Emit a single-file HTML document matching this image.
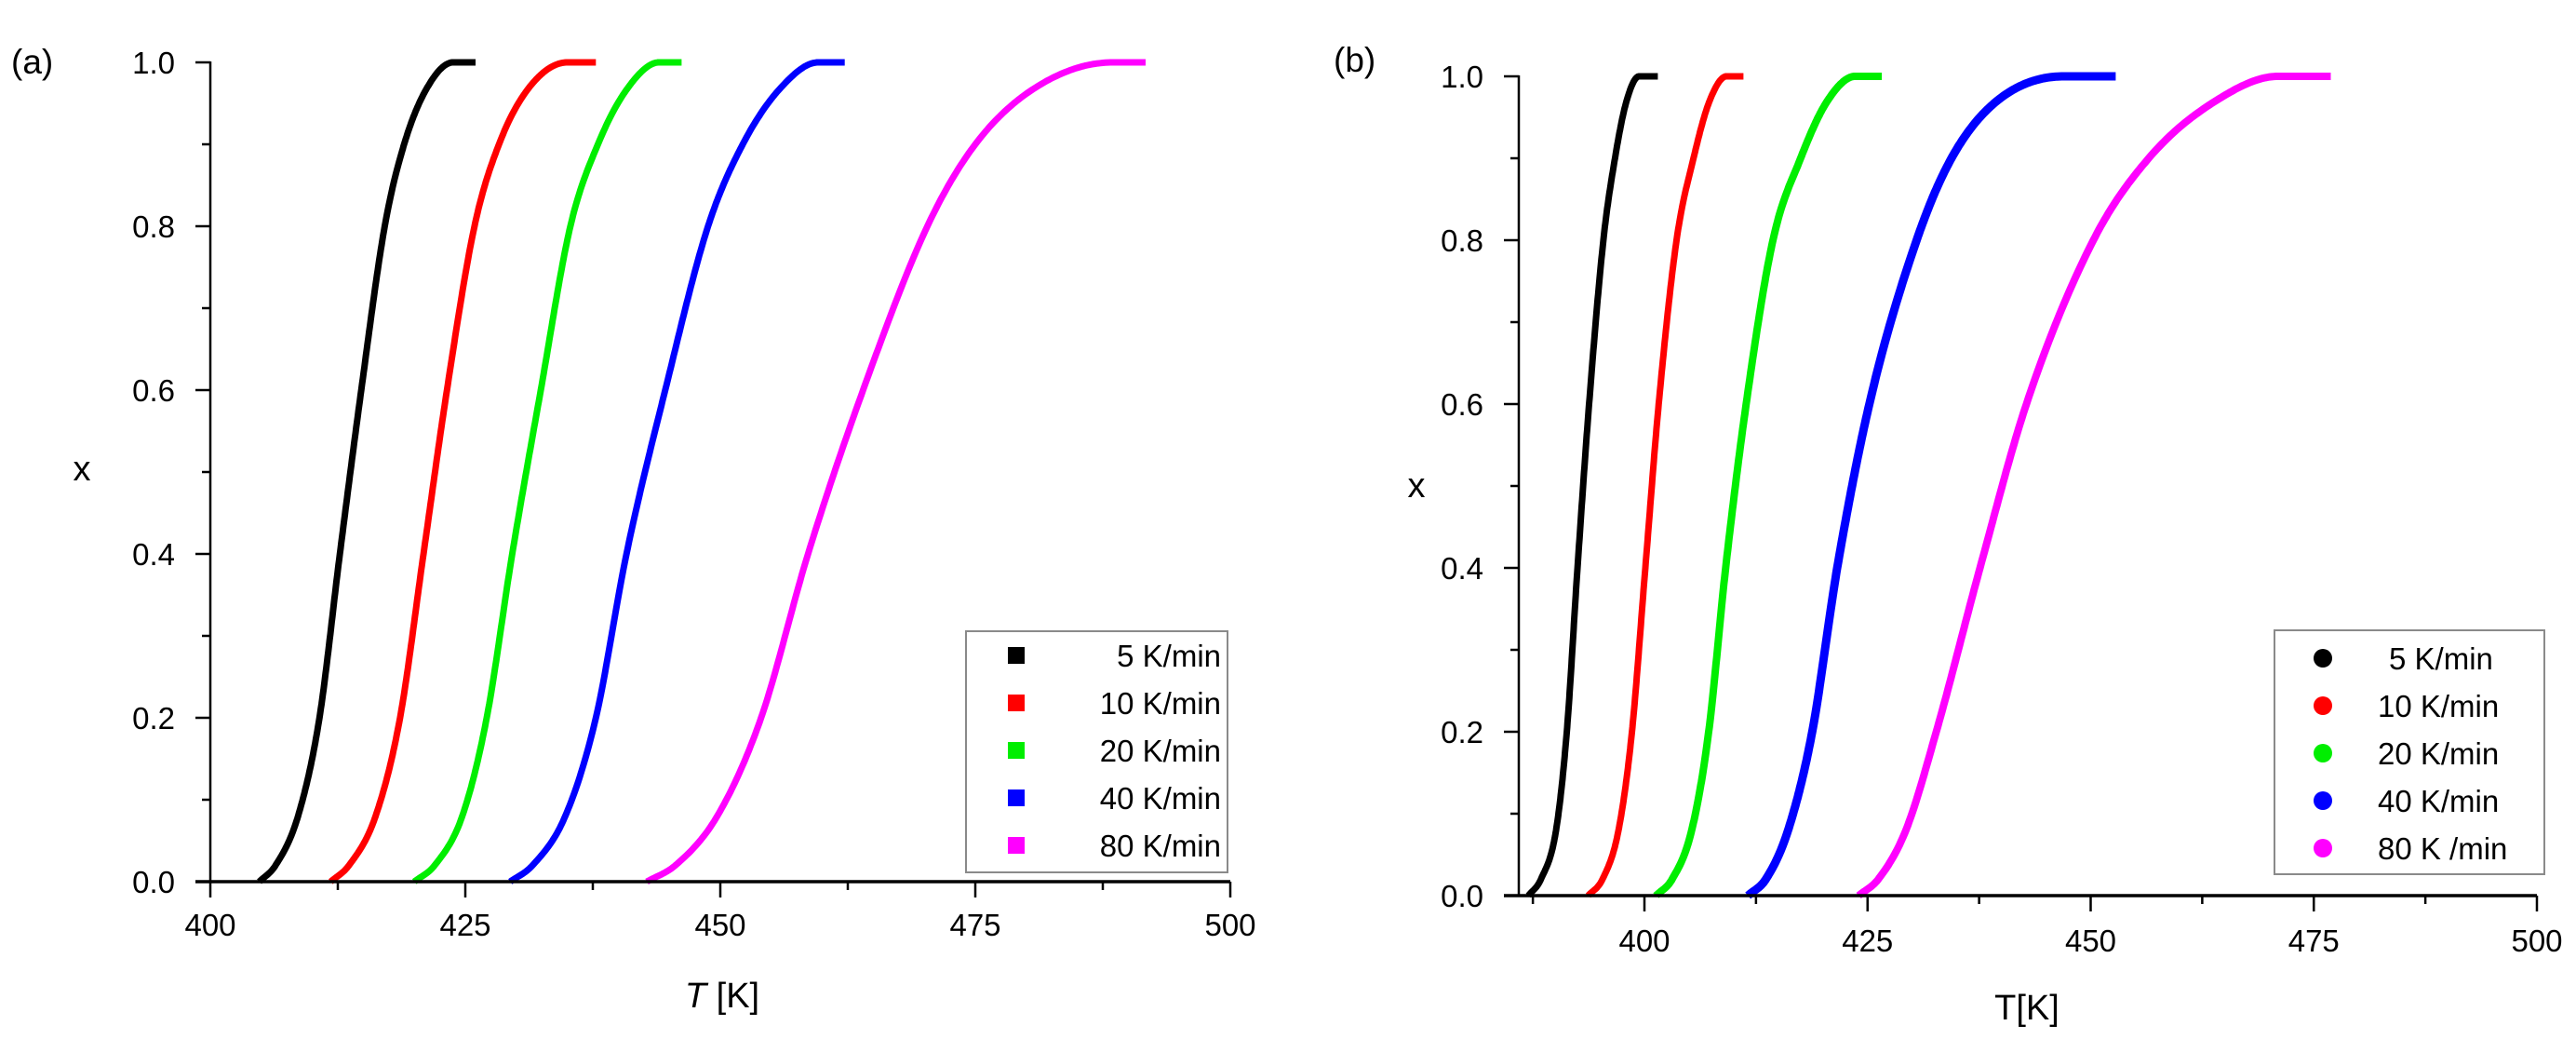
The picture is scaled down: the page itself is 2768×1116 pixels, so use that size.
<!DOCTYPE html>
<html><head><meta charset="utf-8">
<style>
html,body{margin:0;padding:0;background:#fff;}
svg{display:block;font-family:"Liberation Sans",Arial,sans-serif;}
</style></head>
<body>
<svg id="fig" width="2768" height="1116" viewBox="0 0 2768 1116" xmlns="http://www.w3.org/2000/svg">
<g id="pa"></g>
<g id="pb"></g>
</svg>
<script>
// ---- data ----
const seriesNames = ["5 K/min","10 K/min","20 K/min","40 K/min","80 K/min"];
const seriesNamesB = ["5 K/min","10 K/min","20 K/min","40 K/min","80 K /min"];
const seriesColors = ["#000000","#ff0000","#00ee00","#0000ff","#ff00ff"];
const levels = [0, 0.02, 0.08, 0.2, 0.4, 0.6, 0.8, 0.9, 0.97, 1.0, 1.0];
const tempsA5  = [404.8, 406.4, 408.6, 410.7, 412.7, 414.8, 417.1, 419.0, 421.3, 423.8, 426.0];
const tempsA10 = [411.8, 413.6, 416.2, 418.6, 420.9, 423.2, 425.9, 428.3, 431.3, 435.0, 437.8];
const tempsA20 = [420.0, 422.0, 424.7, 427.1, 429.6, 432.4, 435.3, 438.0, 441.0, 444.0, 446.2];
const tempsA40 = [429.4, 431.6, 434.8, 437.8, 440.8, 444.6, 448.8, 452.2, 456.0, 459.6, 462.2];
const tempsA80 = [442.8, 445.6, 449.7, 454.0, 458.6, 464.0, 470.3, 475.0, 481.0, 488.5, 491.7];
const tempsB5  = [387.0, 388.4, 390.1, 391.3, 392.5, 393.8, 395.4, 396.7, 398.0, 399.4, 401.5];
const tempsB10 = [393.7, 395.3, 397.1, 398.6, 400.1, 401.6, 403.6, 405.5, 407.3, 409.2, 411.1];
const tempsB20 = [401.3, 403.1, 405.3, 407.2, 409.1, 411.4, 414.4, 417.5, 420.5, 423.6, 426.6];
const tempsB40 = [411.6, 413.6, 416.1, 418.8, 421.6, 425.2, 430.5, 434.4, 439.5, 447.0, 452.8];
const tempsB80 = [424.0, 426.2, 429.3, 432.7, 437.6, 442.8, 450.3, 456.5, 464.0, 471.0, 476.9];
const xTicks = [400, 425, 450, 475, 500];
const yTicks = [0, 0.2, 0.4, 0.6, 0.8, 1.0];
const yTickLabels = ["0.0","0.2","0.4","0.6","0.8","1.0"];

const NS = "http://www.w3.org/2000/svg";
function mk(parent, tag, attrs, text){
  const e = document.createElementNS(NS, tag);
  for (const k in attrs) e.setAttribute(k, attrs[k]);
  if (text !== undefined) e.textContent = text;
  parent.appendChild(e);
  return e;
}
function monotonePath(xs, ys, sx, sy){
  const n = xs.length, d = [], m = [];
  for (let i = 0; i < n - 1; i++) d.push((ys[i+1]-ys[i])/(xs[i+1]-xs[i]));
  m.push(d[0]);
  for (let i = 1; i < n - 1; i++) m.push(d[i-1]*d[i] <= 0 ? 0 : (d[i-1]+d[i])/2);
  m.push(d[n-2]);
  for (let i = 0; i < n - 1; i++){
    if (d[i] === 0){ m[i] = 0; m[i+1] = 0; continue; }
    const a = m[i]/d[i], b = m[i+1]/d[i], s = a*a + b*b;
    if (s > 9){ const t = 3/Math.sqrt(s); m[i] = t*a*d[i]; m[i+1] = t*b*d[i]; }
  }
  let path = "";
  for (let i = 0; i < n - 1; i++){
    const h = xs[i+1]-xs[i], N = 30;
    for (let k = (i === 0 ? 0 : 1); k <= N; k++){
      const t = k/N, t2 = t*t, t3 = t2*t;
      const y = (2*t3-3*t2+1)*ys[i] + (t3-2*t2+t)*h*m[i] + (-2*t3+3*t2)*ys[i+1] + (t3-t2)*h*m[i+1];
      const x = xs[i] + t*h;
      path += (path ? " L" : "M") + sx(x).toFixed(1) + "," + sy(y).toFixed(1);
    }
  }
  return path;
}

function panel(g, cfg){
  const sx = t => cfg.x400 + (t - 400) * (cfg.x500 - cfg.x400) / 100;
  const sy = v => cfg.y0 + (cfg.y1 - cfg.y0) * v;
  cfg.series.forEach((temps, i) => {
    const p = mk(g, "path", {d: monotonePath(temps, levels, sx, sy), fill: "none", stroke: seriesColors[i], "stroke-width": cfg.lw[i], "stroke-linecap": "butt", "stroke-linejoin": "round"});
    
    
  });
  const yAx = mk(g, "line", {x1: cfg.axX, y1: cfg.y1 - 1, x2: cfg.axX, y2: cfg.y0, stroke: "#000", "stroke-width": 2.5});
  
  
  const xAx = mk(g, "line", {x1: cfg.axX - 16, y1: cfg.y0, x2: sx(500), y2: cfg.y0, stroke: "#000", "stroke-width": 3.5});
  
  
  for (let k = 0; k <= 10; k++){
    const v = k / 10, y = sy(v), major = k % 2 === 0;
    const t = mk(g, "line", {x1: cfg.axX - (major ? 16 : 9), y1: y, x2: cfg.axX, y2: y, stroke: "#000", "stroke-width": 2.5});
    
    
  }
  yTicks.forEach((v, i) => {
    const tl = mk(g, "text", {x: cfg.axX - 38, y: sy(v) + 12, "text-anchor": "end", "font-size": 33}, yTickLabels[i]);
    
    
  });
  for (let t = 375; t <= 500; t += 12.5){
    const x = sx(t);
    if (x < cfg.axX - 1) continue;
    const major = (t % 25) === 0;
    const tk = mk(g, "line", {x1: x, y1: cfg.y0, x2: x, y2: cfg.y0 + (major ? 17 : 9), stroke: "#000", "stroke-width": 2.5});
    
    
  }
  xTicks.forEach(t => {
    const xl = mk(g, "text", {x: sx(t), y: cfg.xLabY, "text-anchor": "middle", "font-size": 33}, String(t));
    
    
  });
  const L = cfg.legend;
  const lr = mk(g, "rect", {x: L.x, y: L.y, width: L.w, height: L.h, fill: "#fff", stroke: "#8a8a8a", "stroke-width": 2});
  
  
  cfg.names.forEach((n, i) => {
    const cy = L.row0 + i * 51;
    const eg = mk(g, "g", {});
    
    
    if (cfg.marker === "square") mk(eg, "rect", {x: L.mx - 9, y: cy - 9, width: 18, height: 18, fill: seriesColors[i]});
    else mk(eg, "circle", {cx: L.mx, cy: cy, r: 10, fill: seriesColors[i]});
    if (L.anchor === "end") mk(eg, "text", {x: L.tx, y: cy + 12, "text-anchor": "end", "font-size": 33}, n);
    else mk(eg, "text", {x: i === 0 ? L.tx + 12 : L.tx, y: cy + 12, "font-size": 33}, n);
  });
}

const ga = document.getElementById("pa");
panel(ga, {x400: 226, x500: 1322, axX: 226, y0: 947, y1: 67, xLabY: 1005,
  series: [tempsA5, tempsA10, tempsA20, tempsA40, tempsA80], lw: [7,7,7,7,7],
  names: seriesNames, marker: "square",
  legend: {x: 1038, y: 678, w: 281, h: 259, row0: 704, mx: 1092, tx: 1312, anchor: "end"}});
const gb = document.getElementById("pb");
panel(gb, {x400: 1767, x500: 2726, axX: 1632, y0: 962, y1: 82, xLabY: 1022,
  series: [tempsB5, tempsB10, tempsB20, tempsB40, tempsB80], lw: [7,7,8,9,8],
  names: seriesNamesB, marker: "circle",
  legend: {x: 2444, y: 677, w: 290, h: 262, row0: 707, mx: 2496, tx: 2555, anchor: "start"}});

function txt(attrs, s, name){
  const e = mk(document.getElementById("fig"), "text", attrs, s);
  
  
  return e;
}
txt({x: 12, y: 79, "font-size": 37}, "(a)", "panel-a-label");
txt({x: 1433, y: 77, "font-size": 37}, "(b)", "panel-b-label");
txt({x: 88, y: 516, "font-size": 38, "text-anchor": "middle"}, "x", "y-axis-title-a");
txt({x: 1522, y: 534, "font-size": 38, "text-anchor": "middle"}, "x", "y-axis-title-b");
const ta = txt({x: 776, y: 1082, "font-size": 38, "text-anchor": "middle"}, "", "x-axis-title-a");
mk(ta, "tspan", {"font-style": "italic"}, "T");
mk(ta, "tspan", {}, "  [K]");
txt({x: 2178, y: 1095, "font-size": 38, "text-anchor": "middle"}, "T[K]", "x-axis-title-b");
</script>
</body></html>
